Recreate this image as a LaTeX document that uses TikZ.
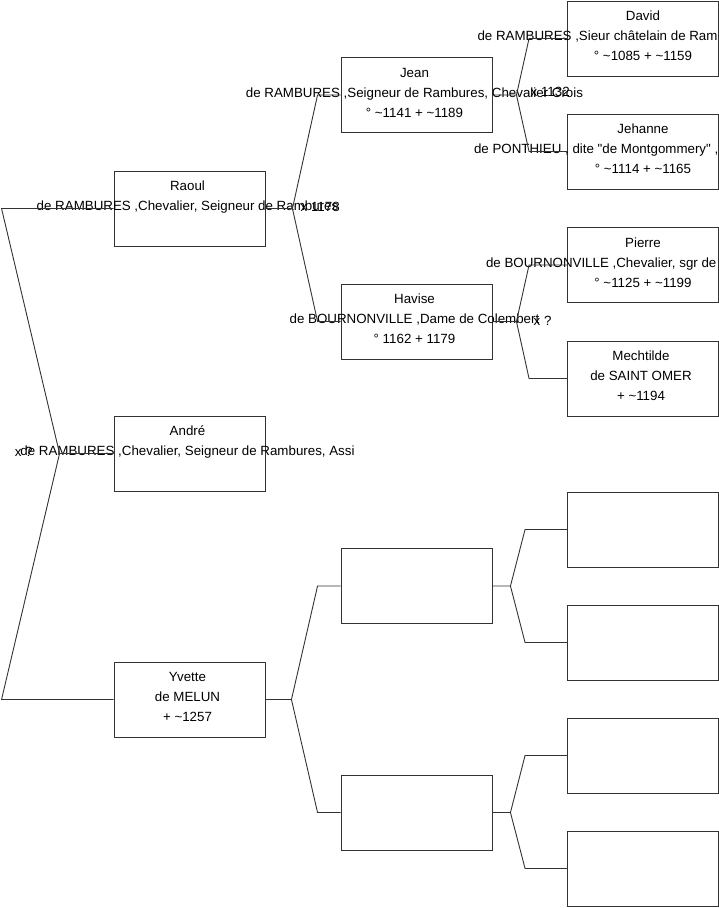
\documentclass[tikz,border=0pt]{standalone}
\usepackage{fontspec}
\setmainfont{Liberation Sans}[Ligatures=TeXOff]
\usetikzlibrary{positioning}

\begin{document}
\begin{tikzpicture}[x=1pt, y=-1pt,
    pbox/.style={draw=black!80, line width=0.9pt, minimum width=151pt, minimum height=75pt, inner sep=0pt},
    ptext/.style={anchor=north, align=center, inner sep=0pt, font=\fontsize{13.33}{20}\selectfont},
    link/.style={black!80, line width=0.9pt},
    wed/.style={anchor=west, inner sep=0pt, font=\fontsize{13.33}{16}\selectfont}]

    \useasboundingbox (0,0) rectangle (719,908);
    \fill[white] (0,0) rectangle (719,908);

    % Boxes, one column per generation
    \node[pbox] (raoul)     at (189.5,208.5) {};
    \node[pbox] (andre)     at (189.5,453.5) {};
    \node[pbox] (yvette)    at (189.5,699.5) {};
    \node[pbox] (jean)      at (416.5,95)    {};
    \node[pbox] (havise)    at (416.5,321.5) {};
    \node[pbox] (yfather)   at (416.5,586)   {};
    \node[pbox] (ymother)   at (416.5,812.5) {};
    \node[pbox] (david)     at (643,38.5)    {};
    \node[pbox] (jehanne)   at (643,151.5)   {};
    \node[pbox] (pierre)    at (643,265)     {};
    \node[pbox] (mechtilde) at (643,378.5)   {};
    \node[pbox] (yffather)  at (643,529.5)   {};
    \node[pbox] (yfmother)  at (643,642.5)   {};
    \node[pbox] (ymfather)  at (643,755.5)   {};
    \node[pbox] (ymmother)  at (643,868.5)   {};

    % Texts
    \node[ptext] (raoult) at ([xshift=-2pt,yshift=-6pt]raoul.north)
        {\strut Raoul\\de RAMBURES ,Chevalier, Seigneur de Rambures};
    \node[ptext] (andret) at ([xshift=-2pt,yshift=-6pt]andre.north)
        {\strut André\\de RAMBURES ,Chevalier, Seigneur de Rambures, Assi};
    \node[ptext] (yvettet) at ([xshift=-2pt,yshift=-6pt]yvette.north)
        {\strut Yvette\\de MELUN\\+ \textasciitilde1257};
    \node[ptext] (jeant) at ([xshift=-2pt,yshift=-6pt]jean.north)
        {\strut Jean\\de RAMBURES ,Seigneur de Rambures, Chevalier Crois\\° \textasciitilde1141 + \textasciitilde1189};
    \node[ptext] (haviset) at ([xshift=-2pt,yshift=-6pt]havise.north)
        {\strut Havise\\de BOURNONVILLE ,Dame de Colembert\\° 1162 + 1179};
    \node[ptext] (davidt) at ([yshift=-6pt]david.north)
        {\strut David\\\makebox[331pt][l]{de RAMBURES ,Sieur châtelain de Ram}\\° \textasciitilde1085 + \textasciitilde1159};
    \node[ptext] (jehannet) at ([yshift=-6pt]jehanne.north)
        {\strut Jehanne\\\makebox[338pt][l]{de PONTHIEU , dite "de Montgommery" ,}\\° \textasciitilde1114 + \textasciitilde1165};
    \node[ptext] (pierret) at ([yshift=-6pt]pierre.north)
        {\strut Pierre\\\makebox[314pt][l]{de BOURNONVILLE ,Chevalier, sgr de}\\° \textasciitilde1125 + \textasciitilde1199};
    \node[ptext] (mechtildet) at ([xshift=-2pt,yshift=-6pt]mechtilde.north)
        {\strut Mechtilde\\de SAINT OMER\\+ \textasciitilde1194};

    % Connectors
    \draw[link] (andre.west) -- ++(-54,0) coordinate (fandre)
        -- ([xshift=-112pt]raoul.west) -- (raoul.west);
    \draw[link] (fandre) -- ([xshift=-112pt]yvette.west) -- (yvette.west);

    \draw[link] (raoul.east) -- ++(27,0) coordinate (fraoul)
        -- ([xshift=-23pt]jean.west) -- (jean.west);
    \draw[link] (fraoul) -- ([xshift=-23pt]havise.west) -- (havise.west);
    \draw[link] (yvette.east) -- ++(26,0) coordinate (fyvette)
        -- ([xshift=-23pt]yfather.west) -- (yfather.west);
    \draw[link] (fyvette) -- ([xshift=-23pt]ymother.west) -- (ymother.west);

    \draw[link] (jean.east) -- ++(24,0) coordinate (fjean)
        -- ([xshift=-38pt]david.west) -- (david.west);
    \draw[link] (fjean) -- ([xshift=-38pt]jehanne.west) -- (jehanne.west);
    \draw[link] (havise.east) -- ++(24,0) coordinate (fhavise)
        -- ([xshift=-38pt]pierre.west) -- (pierre.west);
    \draw[link] (fhavise) -- ([xshift=-38pt]mechtilde.west) -- (mechtilde.west);
    \draw[link] (yfather.east) -- ++(18,0) coordinate (fyfather)
        -- ([xshift=-42pt]yffather.west) -- (yffather.west);
    \draw[link] (fyfather) -- ([xshift=-42pt]yfmother.west) -- (yfmother.west);
    \draw[link] (ymother.east) -- ++(18,0) coordinate (fymother)
        -- ([xshift=-42pt]ymfather.west) -- (ymfather.west);
    \draw[link] (fymother) -- ([xshift=-42pt]ymmother.west) -- (ymmother.west);

    % Marriages
    \node[wed] (wandre)  at ([xshift=-45pt,yshift=2pt]fandre)  {x ?};
    \node[wed] (wraoul)  at ([xshift=8pt,yshift=2pt]fraoul)    {x 1178};
    \node[wed] (wjean)   at ([xshift=14pt,yshift=3pt]fjean)    {x 1132};
    \node[wed] (whavise) at ([xshift=17pt,yshift=1pt]fhavise)  {x ?};

\end{tikzpicture}
\end{document}
